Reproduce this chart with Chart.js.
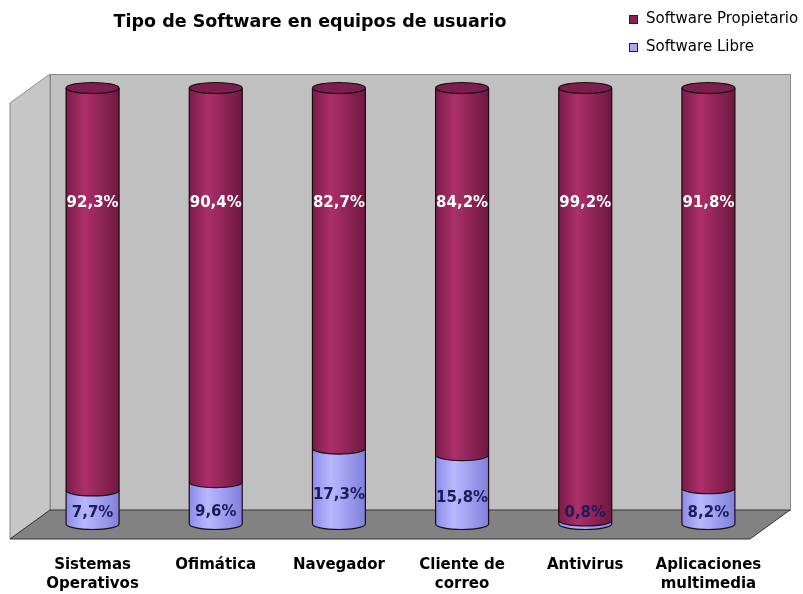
<!DOCTYPE html>
<html>
<head>
<meta charset="utf-8">
<script src="https://cdn.jsdelivr.net/npm/chart.js@4.4.0/dist/chart.umd.min.js"></script>
<style>
  body { margin: 0; background: #fff; }
  #wrap { width: 803px; height: 594px; }
</style>
</head>
<body>
<div id="wrap"><canvas id="myChart"></canvas></div>
<script>
var categorias = [['Sistemas', 'Operativos'], 'Ofimática', 'Navegador', ['Cliente de', 'correo'], 'Antivirus', ['Aplicaciones', 'multimedia']];
var propietario = [92.3, 90.4, 82.7, 84.2, 99.2, 91.8];
var libre = [7.7, 9.6, 17.3, 15.8, 0.8, 8.2];
var titulo = 'Tipo de Software en equipos de usuario';
var nombres = ['Software Propietario', 'Software Libre'];

var colProp = '#9b2660';
var colLibre = '#a8a8ff';

function pct(v) {
  return v.toFixed(1).replace('.', ',') + '%';
}

// walls, floor, title and legend
var fondo3d = {
  id: 'fondo3d',
  beforeDraw: function(chart) {
    var c = chart.ctx, a = chart.chartArea;
    var bl = a.left + 19, br = a.right + 20, bt = a.top - 14, bb = a.bottom - 14;
    var dx = -40, dy = 29;
    c.save();
    c.lineWidth = 1;
    c.strokeStyle = '#8a8a8a';
    // back wall
    c.fillStyle = '#c0c0c0';
    c.fillRect(bl, bt, br - bl, bb - bt);
    c.strokeRect(bl + 0.5, bt + 0.5, br - bl, bb - bt);
    // left wall
    c.fillStyle = '#c6c6c6';
    c.beginPath();
    c.moveTo(bl, bt); c.lineTo(bl + dx, bt + dy); c.lineTo(bl + dx, bb + dy); c.lineTo(bl, bb);
    c.closePath(); c.fill(); c.stroke();
    // floor
    c.fillStyle = '#828282';
    c.beginPath();
    c.moveTo(bl, bb); c.lineTo(br, bb); c.lineTo(br + dx, bb + dy); c.lineTo(bl + dx, bb + dy);
    c.closePath(); c.fill();
    c.strokeStyle = '#333';
    c.stroke();

    // title
    c.fillStyle = '#000';
    c.font = 'bold 17.5px "DejaVu Sans"';
    c.textAlign = 'center';
    c.textBaseline = 'middle';
    c.fillText(titulo, 310, 22);

    // legend
    c.font = '15px "DejaVu Sans"';
    c.textAlign = 'left';
    for (var i = 0; i < nombres.length; i++) {
      var ly = 19 + i * 28;
      c.fillStyle = i === 0 ? '#8a2050' : colLibre;
      c.fillRect(629, ly - 4, 9, 9);
      c.strokeStyle = '#222';
      c.strokeRect(629.5, ly - 3.5, 8, 8);
      c.fillStyle = '#000';
      c.fillText(nombres[i], 646, ly);
    }
    c.restore();
  },
  afterDatasetsDraw: function(chart) {
    var c = chart.ctx;
    var mL = chart.getDatasetMeta(0), mP = chart.getDatasetMeta(1);
    var ys = chart.scales.y;
    c.save();
    c.lineWidth = 1.2;
    c.strokeStyle = '#1a0a12';
    for (var i = 0; i < mL.data.length; i++) {
      var eL = mL.data[i], eP = mP.data[i];
      var x = eL.x, rx = eL.width / 2, ry = 5.5;
      var base = eL.base, yL = eL.y, yP = eP.y;

      // libre segment
      var gL = c.createLinearGradient(x - rx, 0, x + rx, 0);
      gL.addColorStop(0, '#8c8ce8');
      gL.addColorStop(0.35, '#b8b8ff');
      gL.addColorStop(1, '#8080dc');
      c.fillStyle = gL;
      c.beginPath();
      c.moveTo(x - rx, yL);
      c.lineTo(x - rx, base);
      c.ellipse(x, base, rx, ry, 0, Math.PI, 0, true);
      c.lineTo(x + rx, yL);
      c.closePath();
      c.fill();
      c.beginPath();
      c.moveTo(x - rx, yL);
      c.lineTo(x - rx, base);
      c.ellipse(x, base, rx, ry, 0, Math.PI, 0, true);
      c.lineTo(x + rx, yL);
      c.stroke();

      // propietario segment
      var gP = c.createLinearGradient(x - rx, 0, x + rx, 0);
      gP.addColorStop(0, '#7a1c48');
      gP.addColorStop(0.35, '#ac2f6a');
      gP.addColorStop(1, '#6e1840');
      c.fillStyle = gP;
      c.beginPath();
      c.moveTo(x - rx, yP);
      c.lineTo(x - rx, yL);
      c.ellipse(x, yL, rx, ry, 0, Math.PI, 0, true);
      c.lineTo(x + rx, yP);
      c.closePath();
      c.fill();
      c.beginPath();
      c.moveTo(x - rx, yP);
      c.lineTo(x - rx, yL);
      c.ellipse(x, yL, rx, ry, 0, Math.PI, 0, true);
      c.lineTo(x + rx, yP);
      c.stroke();
      // top
      c.fillStyle = '#7c1f4c';
      c.beginPath();
      c.ellipse(x, yP, rx, ry, 0, 0, Math.PI * 2);
      c.fill();
      c.stroke();

      // labels
      c.font = 'bold 15px "DejaVu Sans"';
      c.textAlign = 'center';
      c.textBaseline = 'middle';
      c.fillStyle = '#ffffff';
      c.fillText(pct(propietario[i]), x, ys.getPixelForValue(73.5));
      var yl = Math.min((yL + base) / 2 + 9, base - 11);
      c.fillStyle = '#1c1c58';
      c.fillText(pct(libre[i]), x, yl);
    }
    c.restore();
  }
};

var ctx = document.getElementById('myChart').getContext('2d');
var myChart = new Chart(ctx, {
  type: 'bar',
  data: {
    labels: categorias,
    datasets: [{
      label: nombres[1],
      data: libre,
      backgroundColor: colLibre,
      borderWidth: 0
    }, {
      label: nombres[0],
      data: propietario,
      backgroundColor: colProp,
      borderWidth: 0
    }]
  },
  options: {
    responsive: true,
    maintainAspectRatio: false,
    animation: false,
    layout: { padding: { top: 88, left: 31, right: 33, bottom: 0 } },
    datasets: { bar: { categoryPercentage: 1, barPercentage: 0.43 } },
    plugins: {
      legend: { display: false },
      title: { display: false },
      tooltip: { enabled: false }
    },
    scales: {
      x: {
        stacked: true,
        grid: { display: false, drawTicks: true, tickLength: 31 },
        border: { display: false },
        ticks: {
          color: '#000',
          font: { family: 'DejaVu Sans', size: 15, weight: 'bold', lineHeight: 1.3 },
          padding: 0,
          maxRotation: 0,
          autoSkip: false
        }
      },
      y: {
        stacked: true,
        display: false,
        min: 0,
        max: 100
      }
    }
  },
  plugins: [fondo3d]
});
</script>
</body>
</html>
